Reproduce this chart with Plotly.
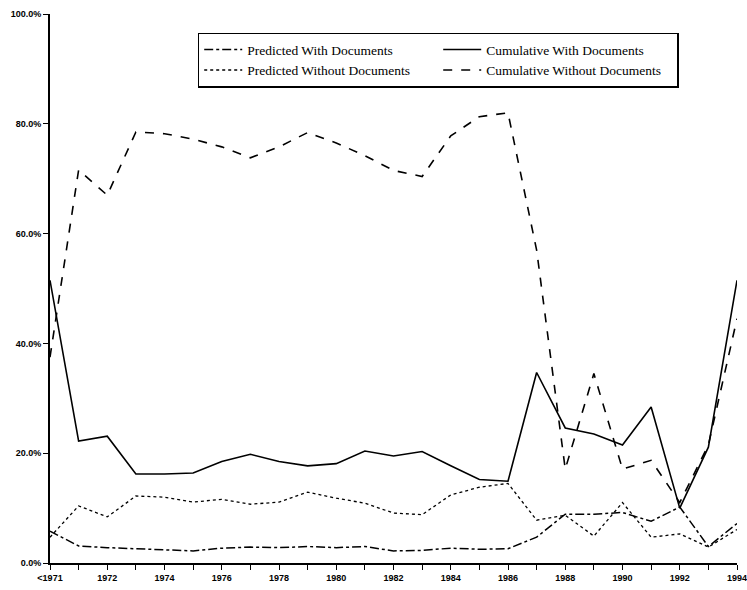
import plotly.graph_objects as go

years = ["<1971"] + [str(y) for y in range(1971, 1995)]
tick_labels = [y if i % 2 == 0 else "" for i, y in enumerate(years)]

predicted_with = [5.8, 3.1, 2.8, 2.6, 2.5, 2.2, 2.7, 2.9, 2.8, 3.0, 2.8, 3.0, 2.2, 2.3, 2.7, 2.5,
                  2.6, 4.7, 8.9, 8.9, 9.2, 7.6, 10.2, 3.0, 7.2]
cumulative_with = [51.5, 22.2, 23.1, 16.2, 16.2, 16.4, 18.5, 19.8, 18.5, 17.7, 18.1, 20.4, 19.5, 20.3,
                   17.7, 15.2, 14.9, 34.7, 24.6, 23.5, 21.5, 28.4, 10.0, 21.1, 51.5]
predicted_without = [4.7, 10.4, 8.4, 12.2, 12.0, 11.1, 11.6, 10.7, 11.1, 12.9, 11.8, 10.9, 9.1, 8.8,
                     12.4, 13.8, 14.5, 7.8, 8.7, 4.9, 11.0, 4.7, 5.3, 2.9, 6.1]
cumulative_without = [37.5, 71.6, 67.0, 78.5, 78.2, 77.2, 75.8, 73.8, 75.8, 78.4, 76.5, 74.2, 71.5, 70.4,
                      77.8, 81.3, 82.0, 57.0, 17.1, 34.5, 17.1, 18.7, 11.0, 21.5, 44.5]

x = list(range(len(years)))

series = [
    ("Predicted With Documents", predicted_with, "dashdot", 1.5),
    ("Cumulative With Documents", cumulative_with, "solid", 1.6),
    ("Predicted Without Documents", predicted_without, "dot", 1.3),
    ("Cumulative Without Documents", cumulative_without, "dash", 1.6),
]

fig = go.Figure()
for name, vals, dash, w in series:
    fig.add_trace(go.Scatter(x=x, y=vals, mode="lines", name=name,
                             line=dict(color="black", dash=dash, width=w)))

fig.update_layout(
    width=747, height=590,
    margin=dict(l=50, r=10, t=14, b=27),
    paper_bgcolor="white", plot_bgcolor="white",
    showlegend=True,
    legend=dict(
        orientation="h", x=0.215, y=0.966, xanchor="left", yanchor="top",
        entrywidth=186, entrywidthmode="pixels",
        bordercolor="black", borderwidth=1.5, bgcolor="white",
        font=dict(family="Liberation Serif", size=13.5, color="black"),
        itemwidth=38, tracegroupgap=0,
    ),
    font=dict(family="Liberation Sans", size=9, color="black"),
)
fig.update_xaxes(
    range=[0, 24], tickmode="array", tickvals=x, ticktext=tick_labels,
    showgrid=False, zeroline=False, showline=True, linecolor="black", linewidth=1.5,
    ticks="outside", ticklen=5, tickcolor="black", tickwidth=1,
    ticklabeloverflow="allow", automargin=False,
    tickfont=dict(family="Liberation Sans", size=9, color="black", weight="bold"),
)
fig.update_yaxes(
    range=[0, 100], tickmode="array", tickvals=[0, 20, 40, 60, 80, 100],
    ticktext=["0.0%", "20.0%", "40.0%", "60.0%", "80.0%", "100.0%"],
    showgrid=False, zeroline=False, showline=True, linecolor="black", linewidth=2,
    ticks="outside", ticklen=5, tickcolor="black", tickwidth=1,
    ticklabeloverflow="allow", automargin=False,
    tickfont=dict(family="Liberation Sans", size=9, color="black", weight="bold"),
)

fig.write_html("out.html", config={"displayModeBar": False},
               post_script="document.body.style.margin='0';document.body.style.overflow='hidden';")
